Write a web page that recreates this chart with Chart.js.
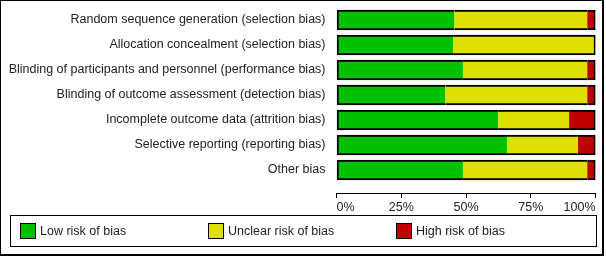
<!DOCTYPE html>
<html>
<head>
<meta charset="utf-8">
<script src="https://cdn.jsdelivr.net/npm/chart.js@4/dist/chart.umd.min.js"></script>
<style>
  body { margin: 0; background: #fff; }
  #frame { position: absolute; left: 0; top: 0; width: 604px; height: 256px; box-sizing: border-box;
    border-left: 1px solid #000; border-top: 1px solid #000; border-right: 2px solid #000; border-bottom: 2px solid #000; }
  #container { position: absolute; left: 0; top: 0; width: 606px; height: 215px; }
  #legend { position: absolute; left: 10px; top: 215px; width: 587px; height: 32px; box-sizing: border-box;
    border: 1px solid #000; font: 12.5px "Liberation Sans", Arial, sans-serif; color: #222; }
  .item { position: absolute; top: 7px; height: 16px; line-height: 16px; }
  .sw { position: absolute; left: 0; top: 0; width: 16px; height: 16px; box-sizing: border-box; border: 1px solid #000; }
  .lbl { position: absolute; left: 20px; top: 0; white-space: nowrap; }
</style>
</head>
<body>
<div id="container"><canvas id="chart"></canvas></div>
<div id="legend"></div>
<div id="frame"></div>
<script>
var categories = [
  "Random sequence generation (selection bias)",
  "Allocation concealment (selection bias)",
  "Blinding of participants and personnel (performance bias)",
  "Blinding of outcome assessment (detection bias)",
  "Incomplete outcome data (attrition bias)",
  "Selective reporting (reporting bias)",
  "Other bias"
];
var seriesNames = ["Low risk of bias", "Unclear risk of bias", "High risk of bias"];
var lowRisk = [45.5, 45.0, 48.8, 42.0, 62.4, 65.8, 48.8];
var unclearRisk = [51.3, 55.0, 48.0, 54.8, 27.4, 27.4, 48.0];
var highRisk = [3.2, 0, 3.2, 3.2, 10.2, 6.8, 3.2];
var xTicks = [0, 25, 50, 75, 100];

var colors = ["rgb(0,192,0)", "rgb(224,224,0)", "rgb(192,0,0)"];
var textFont = { family: "'Liberation Sans', Arial, sans-serif", size: 12.5 };

function toPoints(values) {
  return values.map(function (v, i) { return { x: v, y: i }; });
}

var datasets = [lowRisk, unclearRisk, highRisk].map(function (values, i) {
  return {
    label: seriesNames[i],
    data: toPoints(values),
    backgroundColor: colors[i],
    borderColor: "#000",
    borderWidth: 2,
    borderSkipped: "middle",
    barThickness: 20
  };
});

// index axis: row i sits at value i, half a row of room above the first bar
var yMin = -0.5;
var yMax = 6.92;

new Chart(document.getElementById("chart").getContext("2d"), {
  type: "bar",
  data: { datasets: datasets },
  options: {
    indexAxis: "y",
    responsive: true,
    maintainAspectRatio: false,
    animation: false,
    layout: { padding: { left: 0, right: 10.5, top: 7.5, bottom: 0 } },
    plugins: { legend: { display: false }, tooltip: { enabled: false } },
    scales: {
      x: {
        type: "linear",
        stacked: true,
        min: 0,
        max: 100,
        afterBuildTicks: function (scale) {
          scale.ticks = xTicks.map(function (v) { return { value: v }; });
        },
        afterFit: function (scale) {
          scale.height = 22;
          scale.paddingLeft = 0;
          scale.paddingRight = 0;
        },
        grid: { drawOnChartArea: false, drawTicks: true, tickLength: 5, color: "#000", lineWidth: 1 },
        border: { display: true, color: "#000", width: 1 },
        ticks: {
          align: "inner",
          padding: 2,
          color: "#222",
          font: textFont,
          callback: function (v) { return v + "%"; }
        }
      },
      y: {
        type: "linear",
        stacked: true,
        reverse: true,
        offset: false,
        bounds: "data",
        min: yMin,
        max: yMax,
        afterBuildTicks: function (scale) {
          scale.ticks = categories.map(function (_, i) { return { value: i }; });
        },
        afterFit: function (scale) {
          scale.width = 336.5;
          scale.paddingTop = 0;
          scale.paddingBottom = 0;
        },
        grid: { display: false, drawTicks: false, offset: false },
        border: { display: false },
        ticks: {
          padding: 11,
          color: "#222",
          font: textFont,
          callback: function (v) { return categories[v]; }
        }
      }
    }
  }
});

var legend = document.getElementById("legend");
seriesNames.forEach(function (name, i) {
  var item = document.createElement("div");
  item.className = "item";
  item.style.left = (9 + i * 188) + "px";
  var sw = document.createElement("div");
  sw.className = "sw";
  sw.style.background = colors[i];
  var lbl = document.createElement("div");
  lbl.className = "lbl";
  lbl.innerText = name;
  item.appendChild(sw);
  item.appendChild(lbl);
  legend.appendChild(item);
});
</script>
</body>
</html>
